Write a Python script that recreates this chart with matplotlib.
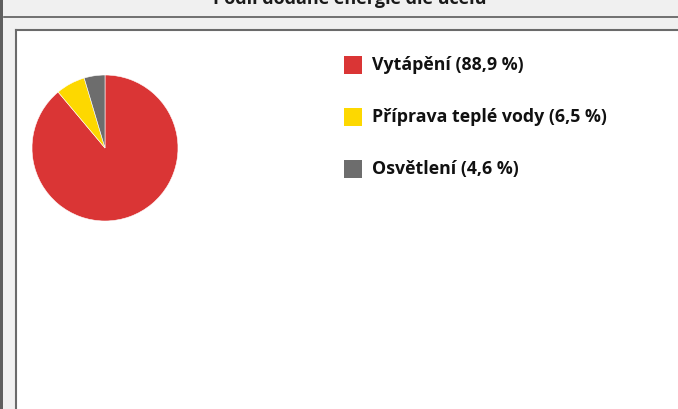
import numpy as np
import matplotlib
matplotlib.use("Agg")
import matplotlib.pyplot as plt
from matplotlib.patches import Rectangle
from matplotlib.lines import Line2D

# data
title = "Podíl dodané energie dle účelu"
labels = ["Vytápění", "Příprava teplé vody", "Osvětlení"]
shares = [88.9, 6.5, 4.6]
colors = ["#DA3535", "#FDD800", "#6D6D6D"]

W, H = 678, 409
fig = plt.figure(figsize=(W / 100, H / 100), dpi=100)
fig.patch.set_facecolor("#F0F0F0")

def fx(px):
    return px / W

def fy(py):
    return 1 - py / H

# window frame (kept behind the pie axes)
fig.patches.append(Rectangle((0, 0), fx(3), 1, transform=fig.transFigure,
                             facecolor="#5E5E5E", edgecolor="none", zorder=-5))
fig.lines.append(Line2D([fx(4), 1], [fy(16.5), fy(16.5)], transform=fig.transFigure,
                        color="#5A5A5A", lw=1.2, zorder=-5))
# white panel
fig.patches.append(Rectangle((fx(16), 0), 1 - fx(16), fy(30), transform=fig.transFigure,
                             facecolor="white", edgecolor="none", zorder=-5))
fig.lines.append(Line2D([fx(16), fx(16)], [0, fy(30)], transform=fig.transFigure,
                        color="#6A6A6A", lw=1.5, zorder=-4))
fig.lines.append(Line2D([fx(16), 1], [fy(30), fy(30)], transform=fig.transFigure,
                        color="#6A6A6A", lw=1.5, zorder=-4))

FONT = "Open Sans"

# title, mostly cut off by the top edge
fig.text(fx(350), fy(3.5), title, ha="center", va="baseline", fontsize=13,
         fontweight="bold", family=FONT, color="#1A1A1A")

# pie
cx, cy, r = 105, 148, 73
ax = fig.add_axes([fx(cx - r), fy(cy + r), 2 * r / W, 2 * r / H])
ax.pie(shares, colors=colors, startangle=90, counterclock=False,
       wedgeprops=dict(linewidth=0.4, edgecolor="white"))
ax.set_aspect("auto")
ax.set_xlim(-1, 1)
ax.set_ylim(-1, 1)
ax.axis("off")

# legend
row_y = [65, 117, 169]
for lab, val, col, y in zip(labels, shares, colors, row_y):
    txt = f"{lab} ({val:.1f} %)".replace(".", ",")
    fig.patches.append(Rectangle((fx(344), fy(y + 9)), 18 / W, 18 / H,
                                 transform=fig.transFigure, facecolor=col, edgecolor="none"))
    fig.text(fx(372), fy(y), txt, ha="left", va="center", fontsize=12.8,
             fontweight="bold", family=FONT, color="#111111")

fig.savefig("out.png", dpi=100, facecolor=fig.get_facecolor())
